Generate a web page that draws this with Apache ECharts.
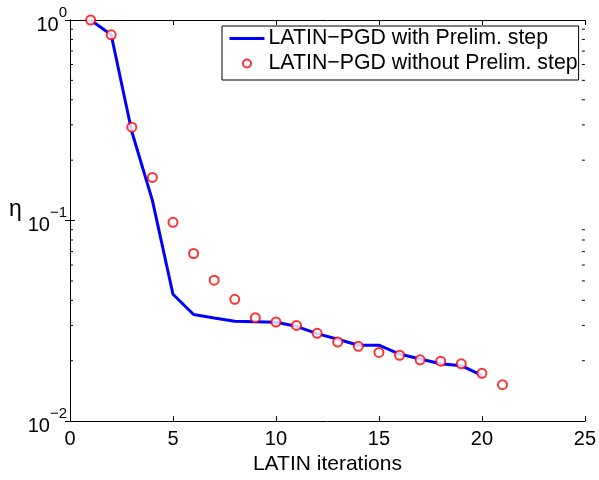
<!DOCTYPE html>
<html>
<head>
<meta charset="utf-8">
<script src="https://cdn.jsdelivr.net/npm/echarts@6/dist/echarts.min.js"></script>
<style>
  html, body { margin: 0; padding: 0; background: #fff; }
  #chart { width: 599px; height: 480px; }
</style>
</head>
<body>
<div id="chart"></div>
<script>
// iterations 1..21
const iterations = [1, 2, 3, 4, 5, 6, 7, 8, 9, 10, 11, 12, 13, 14, 15, 16, 17, 18, 19, 20, 21];
// eta, with the preliminary step (20 iterations)
const etaWith = [1.0, 0.844, 0.278, 0.126, 0.0429, 0.0340, 0.0327, 0.0315, 0.0313, 0.0311,
  0.0297, 0.0273, 0.0256, 0.0239, 0.0239, 0.0216, 0.0204, 0.0193, 0.0189, 0.0169];
// eta, without the preliminary step (21 iterations)
const etaWithout = [1.0, 0.844, 0.292, 0.164, 0.098, 0.0685, 0.0504, 0.0405, 0.0328, 0.0312,
  0.0300, 0.0274, 0.0248, 0.0236, 0.0220, 0.0213, 0.0202, 0.0199, 0.0193, 0.0173, 0.0152];
const xTicks = [0, 5, 10, 15, 20, 25];
const yDecades = [-2, -1, 0];

const FONT = "'Liberation Sans', Arial, Helvetica, sans-serif";
const seriesWith = etaWith.map((v, i) => [iterations[i], v]);
const seriesWithout = etaWithout.map((v, i) => [iterations[i], v]);

let myChart = echarts.init(document.getElementById("chart"));

const axisLineStyle = { lineStyle: { color: "#000", width: 1 } };

myChart.setOption({
  animation: false,
  backgroundColor: "#fff",
  grid: { left: 70, right: 14, top: 20, bottom: 53 },
  legend: {
    left: 222,
    top: 26,
    orient: "vertical",
    backgroundColor: "#fff",
    borderColor: "#000",
    borderWidth: 1,
    padding: [2, 1, 6, 6],
    itemGap: 4,
    itemWidth: 35,
    itemHeight: 8,
    textStyle: { fontFamily: FONT, fontSize: 21.3, color: "#000", lineHeight: 21, padding: [0, 0, 0, -1] },
    data: [
      { name: "LATIN\u2212PGD with Prelim. step", itemStyle: { opacity: 0 }, lineStyle: { width: 3 } },
      { name: "LATIN\u2212PGD without Prelim. step" }
    ]
  },
  xAxis: [
    {
      type: "value",
      min: 0,
      max: 25,
      interval: 5,
      name: "LATIN iterations",
      nameLocation: "middle",
      nameGap: 30,
      nameTextStyle: { fontFamily: FONT, fontSize: 21, color: "#000" },
      axisLine: axisLineStyle,
      axisTick: { inside: true, length: 5, lineStyle: { color: "#000" } },
      axisLabel: { fontFamily: FONT, fontSize: 20, color: "#000", margin: 8,
        formatter: v => (xTicks.indexOf(v) >= 0 ? String(v) : "") },
      splitLine: { show: false }
    },
    {
      type: "value",
      position: "top",
      min: 0,
      max: 25,
      interval: 5,
      axisLine: axisLineStyle,
      axisTick: { inside: true, length: 5, lineStyle: { color: "#000" } },
      axisLabel: { show: false },
      splitLine: { show: false }
    }
  ],
  yAxis: [
    {
      type: "log",
      logBase: 10,
      min: 0.01,
      max: 1,
      splitNumber: 2,
      name: "\u03b7",
      nameLocation: "middle",
      nameRotate: 0,
      nameGap: 41,
      nameTextStyle: { fontFamily: FONT, fontSize: 23, color: "#000", verticalAlign: "bottom", lineHeight: 22 },
      axisLine: axisLineStyle,
      axisTick: { inside: true, length: 5, lineStyle: { color: "#000" } },
      axisLabel: {
        margin: 3,
        formatter: v => {
          let e = Math.round(Math.log10(v));
          if (yDecades.indexOf(e) < 0) return "";
          return "{b|10}{s|" + (e < 0 ? "\u2212" + (-e) : e) + "}";
        },
        rich: {
          b: { fontFamily: FONT, fontSize: 20, color: "#000", verticalAlign: "bottom", lineHeight: 30 },
          s: { fontFamily: FONT, fontSize: 15, color: "#000", verticalAlign: "top", lineHeight: 30 }
        }
      },
      splitLine: { show: false }
    },
    {
      type: "log",
      logBase: 10,
      position: "right",
      min: 0.01,
      max: 1,
      splitNumber: 2,
      axisLine: axisLineStyle,
      axisTick: { inside: true, length: 5, lineStyle: { color: "#000" } },
      axisLabel: { show: false },
      splitLine: { show: false }
    }
  ],
  series: [
    {
      name: "LATIN\u2212PGD with Prelim. step",
      type: "line",
      data: seriesWith,
      symbol: "none",
      lineStyle: { color: "#0000ff", width: 3 },
      itemStyle: { color: "#0000ff" },
      z: 2
    },
    {
      name: "LATIN\u2212PGD without Prelim. step",
      type: "scatter",
      data: seriesWithout,
      symbol: "emptyCircle",
      symbolSize: 9,
      itemStyle: { color: "#ff0000", borderColor: "#ff0000", borderWidth: 1.8 },
      z: 3
    }
  ]
});

// minor ticks of the log axis (2..9 x 10^k), on the left and right sides
function drawMinorTicks() {
  let left = myChart.convertToPixel({ xAxisIndex: 0 }, 0);
  let right = myChart.convertToPixel({ xAxisIndex: 0 }, 25);
  let elements = [];
  yDecades.slice(0, -1).forEach(k => {
    for (let m = 2; m <= 9; m++) {
      let y = myChart.convertToPixel({ yAxisIndex: 0 }, m * Math.pow(10, k));
      elements.push({ type: "line", shape: { x1: left, y1: y, x2: left + 3, y2: y },
        style: { stroke: "#000", lineWidth: 1 }, silent: true });
      elements.push({ type: "line", shape: { x1: right, y1: y, x2: right - 3, y2: y },
        style: { stroke: "#000", lineWidth: 1 }, silent: true });
    }
  });
  myChart.setOption({ graphic: elements });
}
drawMinorTicks();
</script>
</body>
</html>
